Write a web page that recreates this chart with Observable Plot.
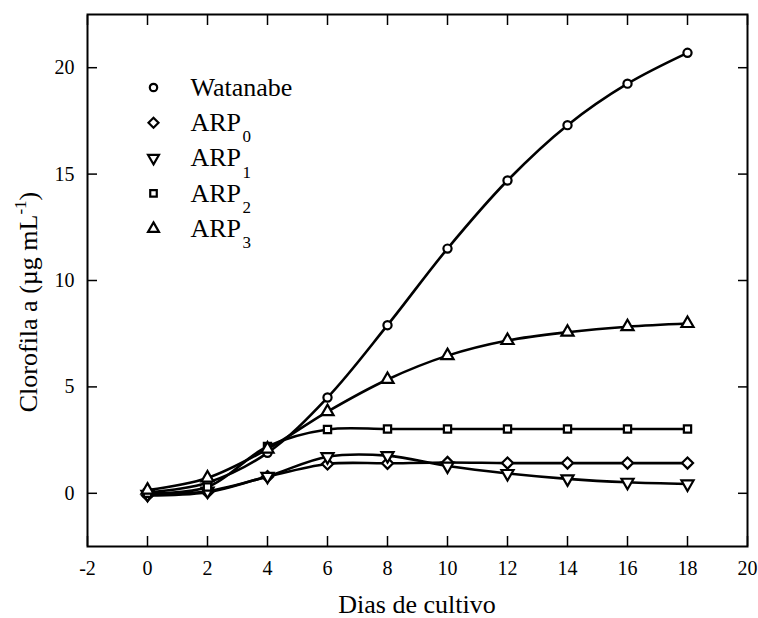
<!DOCTYPE html>
<html><head><meta charset="utf-8">
<script src="https://cdn.jsdelivr.net/npm/d3@7"></script>
<script src="https://cdn.jsdelivr.net/npm/@observablehq/plot@0.6"></script>
<style>
body{margin:0;background:#fff}
#chart svg{font-family:"Liberation Serif","Times New Roman",serif;background:#fff}
</style>
</head><body><div id="chart"></div>
<script>
// ---- data ----
const days = [0, 2, 4, 6, 8, 10, 12, 14, 16, 18];
const watanabe = [0.05, 0.5, 1.9, 4.5, 7.9, 11.5, 14.7, 17.3, 19.25, 20.7];
const arp0 = [-0.1, 0.05, 0.78, 1.38, 1.41, 1.45, 1.42, 1.42, 1.42, 1.42];
const arp1 = [-0.05, 0.1, 0.8, 1.72, 1.77, 1.28, 0.93, 0.68, 0.52, 0.44];
const arp2 = [0.0, 0.3, 2.2, 3.0, 3.02, 3.02, 3.02, 3.02, 3.02, 3.02];
const arp3 = [0.15, 0.72, 2.08, 3.84, 5.35, 6.47, 7.18, 7.57, 7.83, 7.98];
const seriesNames = ["Watanabe", "ARP0", "ARP1", "ARP2", "ARP3"];
const legendBase = ["Watanabe", "ARP", "ARP", "ARP", "ARP"];
const legendSub = ["", "0", "1", "2", "3"];
const xTicks = [-2, 0, 2, 4, 6, 8, 10, 12, 14, 16, 18, 20];
const yTicks = [0, 5, 10, 15, 20];
const xTitle = "Dias de cultivo";
const yTitleMain = "Clorofila a (µg mL";
const yTitleSup = "-1";
const yTitleEnd = ")";

// ---- build table ----
const seriesValues = [watanabe, arp0, arp1, arp2, arp3];
const rows = [];
seriesNames.forEach((name, i) => seriesValues[i].forEach((v, j) => rows.push({series: name, day: days[j], value: v})));

// ---- styles ----
const triangleDown = {
  draw(context, size) {
    const y = -Math.sqrt(size / (Math.sqrt(3) * 3));
    context.moveTo(0, -y * 2);
    context.lineTo(-Math.sqrt(3) * y, y);
    context.lineTo(Math.sqrt(3) * y, y);
    context.closePath();
  }
};
const symbolOf = {Watanabe: "circle", ARP0: "diamond2", ARP1: triangleDown, ARP2: "square", ARP3: "triangle"};
const radiusOf = {Watanabe: 4.1, ARP0: 5.0, ARP1: 4.5, ARP2: 4.1, ARP3: 4.5};

const W = 758, H = 618;
const mL = 87, mT = 14, mR = 11, mB = 72;

const marks = [
  Plot.frame({stroke: "black", strokeWidth: 2}),
  Plot.axisX({ticks: xTicks, tickSize: -10, tickPadding: 24, tickFormat: d => String(d), fontSize: 20, strokeWidth: 1.5, label: null}),
  Plot.axisX({anchor: "top", ticks: xTicks, tickSize: -10, tickFormat: () => "", strokeWidth: 1.5, label: null}),
  Plot.axisY({ticks: yTicks, tickSize: -10, tickPadding: 23, tickFormat: d => String(d), fontSize: 20, strokeWidth: 1.5, label: null}),
  Plot.axisY({anchor: "right", ticks: yTicks, tickSize: -10, tickFormat: () => "", strokeWidth: 1.5, label: null})
];
for (const name of seriesNames) {
  marks.push(Plot.line(rows, {filter: d => d.series === name, x: "day", y: "value", curve: "catmull-rom", stroke: "black", strokeWidth: 2.6}));
}
for (const name of seriesNames) {
  marks.push(Plot.dot(rows, {filter: d => d.series === name, x: "day", y: "value", symbol: symbolOf[name], r: radiusOf[name], stroke: "black", fill: "white", strokeWidth: 2.2}));
}
// legend
seriesNames.forEach((name, i) => {
  const dy = 73 + 35.3 * i;
  marks.push(Plot.dot([name], {frameAnchor: "top-left", dx: 66, dy, symbol: symbolOf[name], r: radiusOf[name] * 0.9, stroke: "black", fill: "white", strokeWidth: 2.2}));
  marks.push(Plot.text([legendBase[i]], {text: d => d, frameAnchor: "top-left", dx: 103, dy, textAnchor: "start", lineAnchor: "middle", fontSize: 26, fill: "black"}));
  if (legendSub[i]) marks.push(Plot.text([legendSub[i]], {text: d => d, frameAnchor: "top-left", dx: 155, dy: dy + 14, textAnchor: "start", lineAnchor: "middle", fontSize: 17, fill: "black"}));
});

const chart = Plot.plot({
  width: W, height: H,
  marginLeft: mL, marginTop: mT, marginRight: mR, marginBottom: mB,
  style: {fontFamily: "'Liberation Serif','Times New Roman',serif", fontSize: "20px", color: "black", background: "white"},
  x: {domain: [-2, 20], label: null},
  y: {domain: [-2.5, 22.5], label: null},
  marks
});
document.getElementById("chart").appendChild(chart);

const svg = d3.select(chart);
svg.append("text")
  .attr("x", (mL + W - mR) / 2).attr("y", 613)
  .attr("text-anchor", "middle").attr("font-size", 26).attr("fill", "black")
  .text(xTitle);
const yt = svg.append("text")
  .attr("transform", `translate(37, 302) rotate(-90)`)
  .attr("text-anchor", "middle").attr("font-size", 26).attr("fill", "black");
yt.append("tspan").text(yTitleMain);
yt.append("tspan").attr("dy", -11).attr("font-size", 17).text(yTitleSup);
yt.append("tspan").attr("dy", 11).text(yTitleEnd);
</script>
</body></html>
